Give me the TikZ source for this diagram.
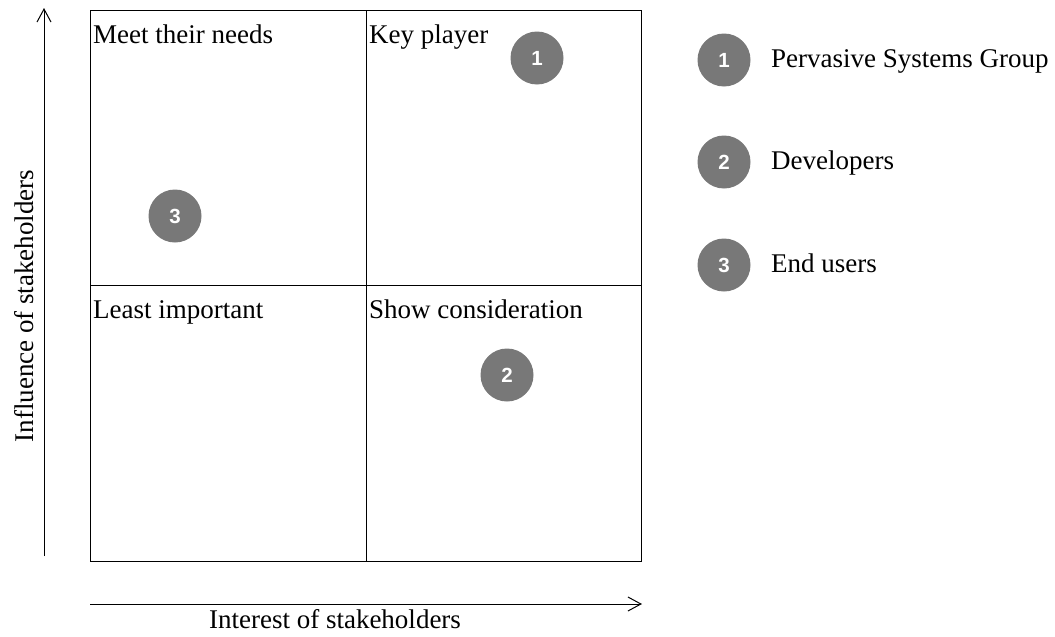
\documentclass[tikz,border=0pt]{standalone}
\usepackage{fontspec}
\setmainfont{Liberation Serif}
\setsansfont{Liberation Sans}
\usetikzlibrary{arrows.meta}
\definecolor{dotgray}{RGB}{120,120,120}
\begin{document}
\begin{tikzpicture}[x=1pt,y=-1pt,
  lbl/.style={font=\fontsize{27}{31}\selectfont, inner sep=0pt, anchor=base west},
  dot/.style={circle, fill=dotgray, minimum size=53pt, inner sep=0pt,
    text=white, font=\sffamily\bfseries\fontsize{20.5}{22}\selectfont},
  axis/.style={line width=1pt, -{Straight Barb[length=13pt,width=14pt,line width=1pt]}},
  frame/.style={draw=black, line width=1pt}]
\useasboundingbox (0,0) rectangle (1055,637);

% quadrant grid
\draw[frame] (90,10) rectangle (641,561);
\draw[frame] (366,10) -- (366,561);
\draw[frame] (90,285) -- (641,285);

% quadrant titles
\node[lbl] (qa) at (93,43) {Meet their needs};
\node[lbl] (qb) at (369,43) {Key player};
\node[lbl] (qc) at (93,318) {Least important};
\node[lbl] (qd) at (369,318) {Show consideration};

% axes
\coordinate (ybot) at (44,556);
\coordinate (ytop) at (44,8);
\coordinate (xl) at (90,604);
\coordinate (xr) at (642,604);
\draw[axis] (ybot) -- (ytop);
\draw[axis] (xl) -- (xr);
\node[font=\fontsize{27}{31}\selectfont, inner sep=0pt, anchor=base] (xlab) at (335,628) {Interest of stakeholders};
\node[font=\fontsize{27}{31}\selectfont, inner sep=0pt, anchor=base, rotate=90] (ylab) at (33,306) {Influence of stakeholders};

% stakeholders placed in the grid
\node[dot] (s1) at (537,58) {1};
\node[dot] (s2) at (507,375) {2};
\node[dot] (s3) at (175,216) {3};

% legend
\node[dot] (l1) at (724,60) {1};
\node[dot] (l2) at (724,162) {2};
\node[dot] (l3) at (724,265) {3};
\node[lbl] (t1) at (771,67) {Pervasive Systems Group};
\node[lbl] (t2) at (771,169) {Developers};
\node[lbl] (t3) at (771,272) {End users};
\end{tikzpicture}
\end{document}
